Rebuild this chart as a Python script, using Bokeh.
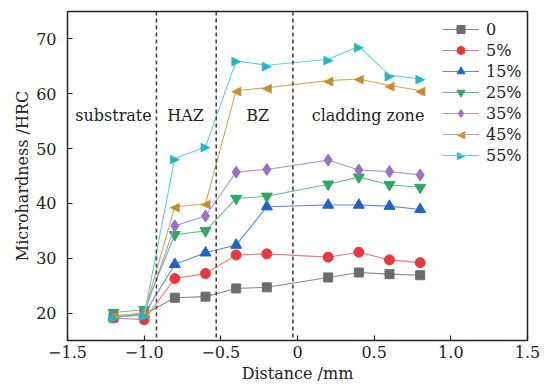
from bokeh.plotting import figure
from bokeh.models import Span, Label, Legend, LegendItem, FixedTicker
from bokeh.core.properties import value
from bokeh.embed import file_html
from bokeh.resources import INLINE

# ---- data ----
distance = [-1.2, -1.0, -0.8, -0.6, -0.4, -0.2, 0.2, 0.4, 0.6, 0.8]
series_names = ["0", "5%", "15%", "25%", "35%", "45%", "55%"]
s0 = [19.2, 19.8, 22.8, 23.0, 24.5, 24.7, 26.5, 27.4, 27.1, 26.9]
s5 = [19.1, 18.8, 26.3, 27.2, 30.6, 30.8, 30.2, 31.1, 29.7, 29.2]
s15 = [19.3, 19.8, 28.9, 31.0, 32.4, 39.4, 39.7, 39.7, 39.5, 38.9]
s25 = [20.1, 20.6, 34.3, 35.0, 40.9, 41.3, 43.5, 44.8, 43.4, 42.9]
s35 = [19.4, 19.9, 35.9, 37.7, 45.7, 46.2, 47.9, 46.1, 45.8, 45.2]
s45 = [19.5, 20.0, 39.4, 39.9, 60.6, 61.1, 62.4, 62.7, 61.5, 60.6]
s55 = [19.2, 19.6, 48.2, 50.3, 66.0, 65.2, 66.3, 68.6, 63.4, 62.7]
zone_lines = [-0.92, -0.53, -0.03]
zone_names = ["substrate", "HAZ", "BZ", "cladding zone"]
zone_label_x = [-1.2, -0.73, -0.26, 0.46]
zone_label_y = 56.0
x_ticks = [-1.5, -1.0, -0.5, 0.0, 0.5, 1.0, 1.5]
x_tick_labels = ["\u22121.5", "\u22121.0", "\u22120.5", "0", "0.5", "1.0", "1.5"]
y_ticks = [20, 30, 40, 50, 60, 70]

FONT = "DejaVu Serif"
X0, X1, Y0, Y1 = -1.5, 1.5, 15, 75
W, H = 546, 386
BL, BR, BT, BB = 67, 19, 11, 46
FW, FH = W - BL - BR, H - BT - BB

p = figure(width=W, height=H, x_range=(X0, X1), y_range=(Y0, Y1),
           output_backend="svg", toolbar_location=None,
           min_border_left=BL, min_border_right=BR, min_border_top=BT, min_border_bottom=BB)
p.grid.visible = False
p.outline_line_color = "#222222"
p.outline_line_width = 1.5
p.background_fill_color = "white"
p.border_fill_color = "white"

for ax in (p.xaxis[0], p.yaxis[0]):
    ax.axis_line_color = None
    ax.major_tick_in = 5
    ax.major_tick_out = 0
    ax.minor_tick_line_color = None
    ax.major_tick_line_color = "#222222"
    ax.major_tick_line_width = 1.2
    ax.major_label_text_font = FONT
    ax.major_label_text_font_size = "16px"
    ax.major_label_text_color = "#222222"
    ax.axis_label_text_font = FONT
    ax.axis_label_text_font_size = "16px"
    ax.axis_label_text_font_style = "normal"
    ax.axis_label_text_color = "#222222"

p.xaxis.ticker = FixedTicker(ticks=x_ticks)
p.xaxis.major_label_overrides = {t: l for t, l in zip(x_ticks, x_tick_labels)}
p.yaxis.ticker = FixedTicker(ticks=y_ticks)
p.xaxis.axis_label = "Distance /mm"
p.yaxis.axis_label = "Microhardness /HRC"
p.xaxis.major_label_standoff = 5
p.yaxis.major_label_standoff = 11
p.xaxis.axis_label_standoff = 3
p.yaxis.axis_label_standoff = 1

for xv in zone_lines:
    p.add_layout(Span(location=xv, dimension="height", line_color="#444444",
                      line_width=1.6, line_dash="4 3"))

for name, lx in zip(zone_names, zone_label_x):
    p.add_layout(Label(x=lx, y=zone_label_y, text=name, text_font=FONT,
                       text_font_size="16px", text_align="center",
                       text_baseline="middle", text_color="#222222"))

all_series = [s0, s5, s15, s25, s35, s45, s55]
marker_col = ["#6b6b6f", "#e8383d", "#1f63c6", "#2fa866", "#9a6fc4", "#c48f2a", "#1fb9c2"]
line_col = ["#8a8a8a", "#f0787a", "#5a8ad8", "#5fc08a", "#b396d4", "#d2a855", "#5fd0d6"]
markers = ["square", "circle", "triangle", "inverted_triangle", "diamond", "\u25C0", "\u25B6"]
sizes = [9, 10, 11, 11, 12, 11, 11]

# legend layout (screen px, relative to frame bottom-left)
LEG_X, LEG_Y = 375, 175
GW, GH, SP = 37, 20, 1
n_items = len(series_names)
leg_h = n_items * GH + (n_items - 1) * SP

items = []
for i, (name, ys, mc, lc, mk, sz) in enumerate(zip(series_names, all_series, marker_col, line_col, markers, sizes)):
    l = p.line(distance, ys, line_color=lc, line_width=1.1)
    if mk in ("\u25C0", "\u25B6"):
        s = p.text(distance, ys, text=[mk] * len(distance), text_color=mc,
                   text_font=value("DejaVu Sans"), text_font_size="13px",
                   text_align="center", text_baseline="middle")
        # legend symbol (text glyphs are not drawn by the legend itself)
        sx = LEG_X + GW / 2
        sy = LEG_Y + leg_h - GH / 2 - i * (GH + SP)
        p.add_layout(Label(x=X0 + sx / FW * (X1 - X0), y=Y0 + sy / FH * (Y1 - Y0),
                           text=mk, text_color=mc, text_font="DejaVu Sans",
                           text_font_size="11px", text_align="center",
                           text_baseline="middle"))
    else:
        s = p.scatter(distance, ys, marker=mk, size=sz, fill_color=mc, line_color=mc)
    items.append(LegendItem(label=name, renderers=[l, s]))

legend = Legend(items=items, location=(LEG_X, LEG_Y), orientation="vertical",
                label_text_font=FONT, label_text_font_size="16px", label_text_color="#222222",
                glyph_width=GW, glyph_height=GH, spacing=SP, label_standoff=7,
                padding=0, margin=0, border_line_color=None, background_fill_alpha=0)
p.add_layout(legend)

open("out.html", "w").write(file_html(p, INLINE))
